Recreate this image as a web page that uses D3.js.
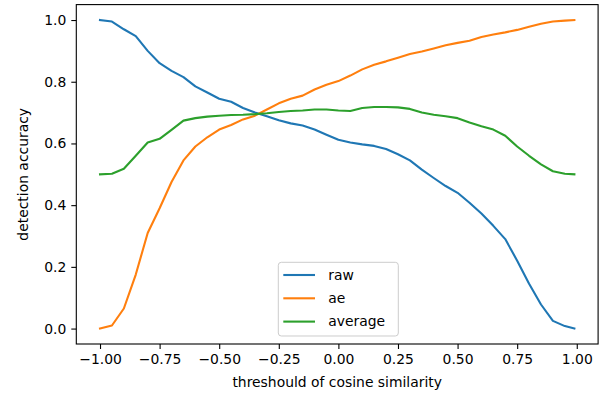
<!DOCTYPE html>
<html>
<head>
<meta charset="utf-8">
<script src="https://cdn.jsdelivr.net/npm/d3@7"></script>
<style>
  body { margin: 0; background: #fff; }
  text { font-family: "DejaVu Sans", sans-serif; }
</style>
</head>
<body>
<div class="chart"></div>
<script>
const width = 600;
const height = 394;

// threshold values (x)
const thresholds = [
  -1.00, -0.95, -0.90, -0.85, -0.80, -0.75, -0.70, -0.65, -0.60, -0.55,
  -0.50, -0.45, -0.40, -0.35, -0.30, -0.25, -0.20, -0.15, -0.10, -0.05,
  0.00, 0.05, 0.10, 0.15, 0.20, 0.25, 0.30, 0.35, 0.40, 0.45,
  0.50, 0.55, 0.60, 0.65, 0.70, 0.75, 0.80, 0.85, 0.90, 0.95, 0.99
];

const raw = [
  1.000, 0.995, 0.970, 0.948, 0.900, 0.860, 0.835, 0.815, 0.785, 0.765,
  0.745, 0.735, 0.715, 0.700, 0.688, 0.675, 0.665, 0.658, 0.645, 0.628,
  0.612, 0.603, 0.597, 0.592, 0.582, 0.565, 0.545, 0.515, 0.488, 0.462,
  0.440, 0.408, 0.373, 0.333, 0.290, 0.220, 0.145, 0.078, 0.025, 0.008, 0.000
];

const ae = [
  0.000, 0.010, 0.065, 0.175, 0.310, 0.390, 0.475, 0.545, 0.590, 0.620,
  0.645, 0.660, 0.678, 0.690, 0.710, 0.730, 0.745, 0.755, 0.775, 0.790,
  0.802, 0.820, 0.840, 0.855, 0.866, 0.878, 0.890, 0.898, 0.908, 0.918,
  0.926, 0.933, 0.945, 0.953, 0.960, 0.968, 0.978, 0.988, 0.995, 0.998, 1.000
];

const average = [
  0.500, 0.502, 0.518, 0.560, 0.603, 0.615, 0.644, 0.674, 0.682, 0.687,
  0.690, 0.692, 0.693, 0.695, 0.698, 0.702, 0.705, 0.707, 0.710, 0.710,
  0.707, 0.705, 0.715, 0.718, 0.718, 0.717, 0.712, 0.700, 0.693, 0.688,
  0.682, 0.668, 0.656, 0.645, 0.625, 0.590, 0.560, 0.532, 0.510, 0.502, 0.500
];

const seriesNames = ['raw', 'ae', 'average'];
const colors = ['#1f77b4', '#ff7f0e', '#2ca02c'];
const xTicks = [-1.00, -0.75, -0.50, -0.25, 0.00, 0.25, 0.50, 0.75, 1.00];
const yTicks = [0.0, 0.2, 0.4, 0.6, 0.8, 1.0];

const plotLeft = 76.3;
const plotRight = 598.1;
const plotTop = 4.6;
const plotBottom = 344;

const svg = d3
  .select('.chart')
  .append('svg')
  .attr('width', width)
  .attr('height', height);

// matplotlib-like 5% margins
const x = d3.scaleLinear().domain([-1.0995, 1.0895]).range([plotLeft, plotRight]);
const y = d3.scaleLinear().domain([-0.05, 1.05]).range([plotBottom, plotTop]);

const line = d3
  .line()
  .x((d, i) => x(thresholds[i]))
  .y(d => y(d));

const plot = svg.append('g');
[raw, ae, average].forEach((s, i) => {
  plot
    .append('path')
    .datum(s)
    .attr('d', line)
    .attr('fill', 'none')
    .attr('stroke', colors[i])
    .attr('stroke-width', 2.1)
    .attr('stroke-linejoin', 'round')
    .attr('stroke-linecap', 'square');
});

// axes
const xAxis = svg
  .append('g')
  .attr('transform', `translate(0,${plotBottom})`)
  .call(d3.axisBottom(x).tickValues(xTicks).tickFormat(d3.format('.2f')).tickSizeOuter(0).tickSize(5).tickPadding(5));

const yAxis = svg
  .append('g')
  .attr('transform', `translate(${plotLeft},0)`)
  .call(d3.axisLeft(y).tickValues(yTicks).tickFormat(d3.format('.1f')).tickSizeOuter(0).tickSize(5).tickPadding(5));

[xAxis, yAxis].forEach(a => {
  a.select('.domain').remove();
  a.selectAll('line').attr('stroke', '#000').attr('stroke-width', 1.1);
  a.selectAll('text')
    .attr('fill', '#000')
    .style('font-size', '13.9px');
});

// frame
svg
  .append('rect')
  .attr('x', plotLeft)
  .attr('y', plotTop)
  .attr('width', plotRight - plotLeft)
  .attr('height', plotBottom - plotTop)
  .attr('fill', 'none')
  .attr('stroke', '#000')
  .attr('stroke-width', 1.1);

// axis labels
svg
  .append('text')
  .attr('x', (plotLeft + plotRight) / 2)
  .attr('y', 387)
  .attr('text-anchor', 'middle')
  .style('font-size', '13.9px')
  .text('threshould of cosine similarity');

svg
  .append('text')
  .attr('transform', `translate(28,${(plotTop + plotBottom) / 2}) rotate(-90)`)
  .attr('text-anchor', 'middle')
  .style('font-size', '13.9px')
  .text('detection accuracy');

// legend
const legend = svg.append('g').attr('transform', 'translate(278.3,262.3)');
legend
  .append('rect')
  .attr('width', 120)
  .attr('height', 73.7)
  .attr('rx', 3)
  .attr('fill', '#fff')
  .attr('fill-opacity', 0.8)
  .attr('stroke', '#ccc')
  .attr('stroke-width', 1);

seriesNames.forEach((name, i) => {
  const row = legend.append('g').attr('transform', `translate(0,${12.7 + i * 23.3})`);
  row
    .append('line')
    .attr('x1', 5)
    .attr('x2', 36.7)
    .attr('stroke', colors[i])
    .attr('stroke-width', 2.1);
  row
    .append('text')
    .attr('x', 50)
    .attr('dy', '0.35em')
    .style('font-size', '13.9px')
    .text(name);
});
</script>
</body>
</html>
